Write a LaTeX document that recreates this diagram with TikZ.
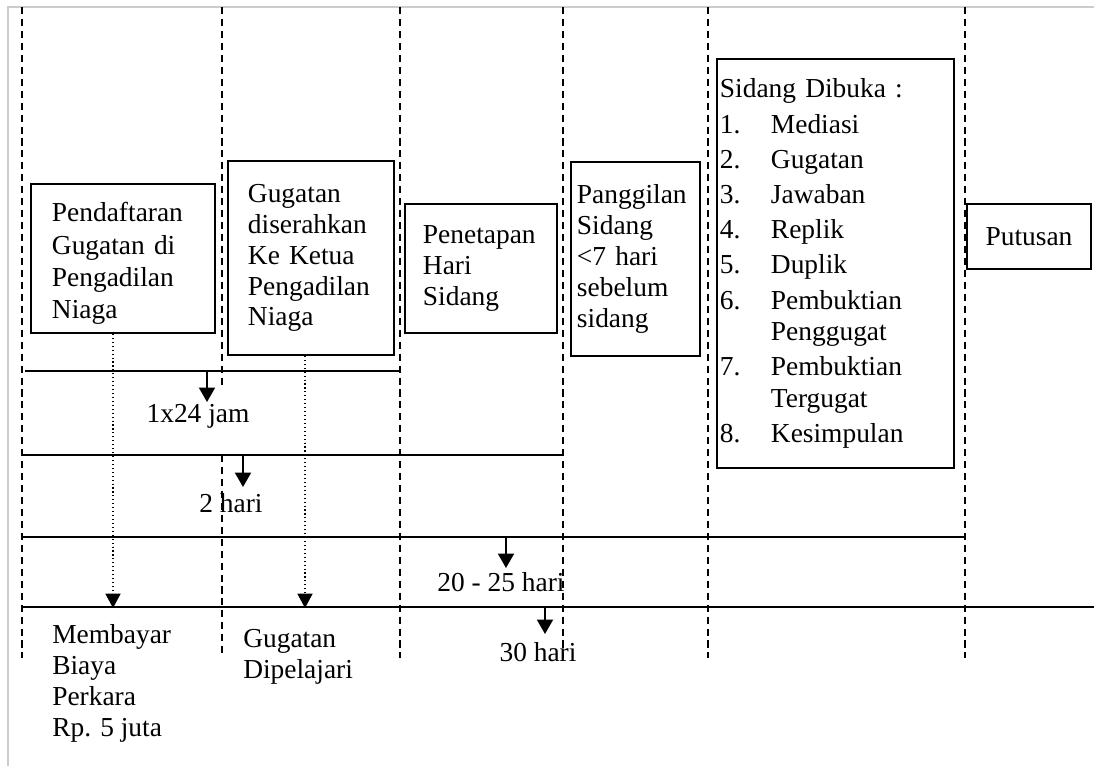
\documentclass[tikz,border=0pt]{standalone}
\usepackage{fontspec}
\setmainfont{Liberation Serif}
\usetikzlibrary{arrows.meta}

\newcommand{\itemno}[1]{\makebox[1.275cm][l]{#1}}

\begin{document}
\begin{tikzpicture}[x=0.025cm, y=-0.025cm,
        font=\fontsize{19.5}{22}\selectfont,
        stage/.style={draw, line width=1.3pt, align=left, inner ysep=0pt},
        lane/.style={line width=1.4pt, dash pattern=on 5pt off 3.5pt},
        tline/.style={line width=1.4pt},
        tarrow/.style={line width=1.4pt, -{Triangle[width=0.4cm, length=0.36cm]}},
        darrow/.style={dotted, line width=0.8pt, -{Triangle[width=0.38cm, length=0.36cm]}},
        lbl/.style={inner sep=0pt, align=left}]
        \useasboundingbox (0,0) rectangle (1094,766);

        % frame
        \draw[gray!40, line width=1.5pt] (8,766) -- (8,7) -- (1094,7);

        % lanes
        \foreach \x in {22,400,563,708,965}
            \draw[lane] (\x,7) -- (\x,658);
        \draw[lane] (222,7) -- (222,387);
        \draw[lane] (222,455) -- (222,658);

        % stages
        \node[stage, minimum width=4.6cm, minimum height=3.725cm, text width=3.55cm, inner xsep=0.525cm] (daftar) at (123,258.5) {\rule{0pt}{0.74cm}Pendaftaran\\[1pt]Gugatan di\\[1pt]Pengadilan\\[1pt]Niaga};
        \node[stage, minimum width=4.15cm, minimum height=4.85cm, text width=3.15cm, inner xsep=0.5cm] (serah) at (311,258) {Gugatan\\diserahkan\\Ke Ketua\\Pengadilan\\Niaga};
        \node[stage, minimum width=3.8cm, minimum height=3.225cm, text width=2.9cm, inner xsep=0.45cm] (tetap) at (481,268.5) {Penetapan\\Hari\\Sidang};
        \node[stage, minimum width=3.225cm, minimum height=4.85cm, text width=2.925cm, inner xsep=0.15cm] (panggil) at (635.5,259) {Panggilan\\Sidang\\<7 hari\\sebelum\\sidang};
        \node[stage, minimum width=5.925cm, minimum height=10.225cm, text width=5.775cm, inner xsep=0.075cm] (sidang) at (835.5,263.5) {Sidang Dibuka :\\[3.5pt]
            \itemno{1.}Mediasi\\[3pt]
            \itemno{2.}Gugatan\\[3pt]
            \itemno{3.}Jawaban\\[3pt]
            \itemno{4.}Replik\\[3pt]
            \itemno{5.}Duplik\\[3pt]
            \itemno{6.}Pembuktian\\[0.5pt]
            \itemno{}Penggugat\\[3pt]
            \itemno{7.}Pembuktian\\[0.5pt]
            \itemno{}Tergugat\\[3pt]
            \itemno{8.}Kesimpulan};
        \node[stage, align=center, minimum width=3.1cm, minimum height=1.625cm] (putus) at (1029,236.5) {Putusan};

        % time lines
        \coordinate (h1a) at (25,371);  \coordinate (h1b) at (400,371);
        \coordinate (h2a) at (22,455);  \coordinate (h2b) at (563,455);
        \coordinate (h3a) at (22,537);  \coordinate (h3b) at (965,537);
        \coordinate (h4a) at (22,607);  \coordinate (h4b) at (1094,607);
        \draw[tline] (h1a) -- (h1b);
        \draw[tline] (h2a) -- (h2b);
        \draw[tline] (h3a) -- (h3b);
        \draw[tline] (h4a) -- (h4b);

        \coordinate (k1) at (207,371);
        \coordinate (k2) at (243,455);
        \coordinate (k3) at (506,537);
        \coordinate (k4) at (545,607);
        \draw[tarrow] (k1) -- ++(0,31);
        \draw[tarrow] (k2) -- ++(0,32);
        \draw[tarrow] (k3) -- ++(0,31);
        \draw[tarrow] (k4) -- ++(0,27);

        \node[lbl] (jam) at (198,416) {1x24 jam};
        \node[lbl] (dua) at (231,503) {2 hari};
        \node[lbl] (duapuluh) at (501,582) {20 - 25 hari};
        \node[lbl] (tigapuluh) at (538,652) {30 hari};

        % results
        \coordinate (v1) at (113,608);
        \coordinate (v2) at (305,608);
        \draw[darrow] (daftar.south -| v1) -- (v1);
        \draw[darrow] (serah.south -| v2) -- (v2);

        \node[lbl, anchor=north west] (bayar) at (52,624) {Membayar\\Biaya\\Perkara\\Rp. 5 juta};
        \node[lbl, anchor=north west] (pelajari) at (243,629) {Gugatan\\Dipelajari};
    \end{tikzpicture}
\end{document}
